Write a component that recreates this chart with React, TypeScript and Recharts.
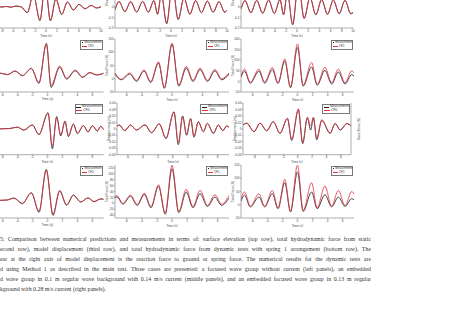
import React from 'react';
import { LineChart, Line, XAxis, YAxis, Legend } from 'recharts';

// ---- row 1: surface elevation (m), time -10..10 s
const r1aTime = [-10, -9.0, -8.0, -7.2, -6.4, -5.5, -4.5, -3.4, -2.3, -1.1, -0.15, 0.8, 1.8, 2.85, 3.9, 5.0, 6.0, 7.1, 8.2, 9.2, 10];
const r1aMeas = [0.002, 0.004, 0.0, 0.005, -0.002, 0.008, 0.0, -0.055, 0.12, -0.13, 0.22, -0.132, 0.075, -0.072, 0.046, -0.03, 0.026, -0.018, 0.015, -0.01, 0.002];
const r1aCfd = [0.002, 0.004, 0.0, 0.005, -0.002, 0.009, 0.002, -0.052, 0.118, -0.126, 0.21, -0.125, 0.078, -0.068, 0.048, -0.028, 0.024, -0.015, 0.014, -0.008, 0.004];

const r1bTime = [-10, -9.28, -8.24, -7.2, -6.13, -5.06, -4.05, -3.04, -2.4, -1.73, -0.77, 0.24, 1.28, 2.32, 3.36, 4.4, 5.44, 6.49, 7.53, 8.57, 9.6, 10];
const r1bMeas = [-0.025, 0.05, -0.045, 0.05, -0.048, 0.052, -0.05, 0.06, -0.07, 0.12, -0.16, 0.22, -0.12, 0.085, -0.07, 0.06, -0.055, 0.055, -0.05, 0.05, -0.05, -0.03];
const r1bCfd = [-0.022, 0.052, -0.043, 0.052, -0.046, 0.054, -0.048, 0.062, -0.066, 0.118, -0.15, 0.21, -0.115, 0.088, -0.067, 0.062, -0.052, 0.057, -0.048, 0.052, -0.048, -0.028];

const r1cMeas = [-0.02, 0.06, -0.055, 0.062, -0.06, 0.065, -0.062, 0.07, -0.075, 0.14, -0.17, 0.23, -0.11, 0.09, -0.075, 0.07, -0.07, 0.065, -0.065, 0.062, -0.065, -0.055];
const r1cCfd = [-0.018, 0.062, -0.052, 0.064, -0.057, 0.067, -0.06, 0.072, -0.07, 0.138, -0.16, 0.22, -0.105, 0.092, -0.072, 0.072, -0.067, 0.067, -0.062, 0.064, -0.062, -0.05];

// ---- row 2: total force from static tests (N)
const r2aTime = [-7.5, -6.2, -5.3, -4.3, -3.3, -2.13, -1.12, -0.13, 0.5, 1.64, 2.57, 3.7, 4.7, 5.65, 6.55, 7.5];
const r2aMeas = [3, 6, -2, 19, -8, 34, -51, 175, -74, 40, -27, 20, -17, 9, -4, 6];
const r2aCfd = [3, 6, -1, 18, -6, 32, -46, 170, -62, 47, -22, 24, -14, 11, -2, 7];

const r2bTime = [-7.5, -6.67, -5.56, -4.67, -3.69, -2.8, -1.78, -1.0, 0, 0.89, 1.87, 2.76, 3.69, 4.67, 5.64, 6.53, 7.5];
const r2bMeas = [18, -4, 18, -10, 30, -14, 60, -36, 130, -28, 40, -10, 34, -10, 30, -4, 18];
const r2bCfd = [22, -2, 22, -6, 33, -10, 64, -32, 134, -24, 47, -6, 40, -6, 35, 0, 22];

const r2cTime = [-7.5, -7.03, -6.27, -5.12, -4.36, -3.34, -2.59, -1.69, -0.93, 0, 0.75, 1.87, 2.61, 3.64, 4.53, 5.42, 6.31, 7.2, 7.5];
const r2cMeas = [20, 48, -8, 48, -8, 55, -10, 95, -30, 160, -22, 68, -18, 52, -12, 44, -12, 32, 25];
const r2cCfd = [25, 58, -4, 58, -4, 66, -6, 106, -26, 177, -18, 90, -14, 67, -6, 58, -6, 50, 40];

// ---- row 3: model displacement (m)
const r3aTime = [-7.5, -6.2, -5.0, -4.0, -3.12, -2.0, -1.12, 0.09, 0.67, 1.24, 1.78, 2.35, 2.8, 3.47, 4.0, 4.8, 5.42, 6.0, 6.66, 7.1, 7.5];
const r3aMeas = [0, 0, 0.0005, 0.0025, -0.002, 0.006, -0.009, 0.025, -0.031, 0.019, -0.011, 0.012, -0.012, 0.0075, -0.0075, 0.005, -0.005, 0.005, -0.0035, 0.004, -0.0015];
const r3aCfd = [0, 0, 0.0005, 0.0028, -0.0018, 0.0062, -0.0085, 0.024, -0.027, 0.017, -0.009, 0.011, -0.01, 0.007, -0.0065, 0.005, -0.0045, 0.0045, -0.003, 0.0038, -0.001];

const r3bTime = [-7.5, -7.1, -6.36, -5.6, -4.8, -3.69, -2.8, -1.78, -0.89, 0.18, 0.76, 1.33, 1.86, 2.4, 2.84, 3.42, 4.09, 4.62, 5.42, 6.09, 6.67, 7.2, 7.5];
const r3bMeas = [0.003, 0.006, -0.003, 0.006, -0.002, 0.006, -0.006, 0.0075, -0.015, 0.026, -0.0245, 0.02, -0.01, 0.016, -0.013, 0.011, -0.0045, 0.0085, -0.007, 0.006, -0.003, 0.0045, 0.0025];
const r3bCfd = [0.003, 0.0055, -0.0025, 0.0058, -0.0015, 0.0062, -0.0055, 0.0078, -0.014, 0.0265, -0.021, 0.018, -0.0085, 0.015, -0.011, 0.0105, -0.004, 0.008, -0.006, 0.0058, -0.0025, 0.0042, 0.0025];

const r3cTime = [-7.59, -7.09, -6.07, -5.24, -4.31, -3.39, -2.46, -1.43, -0.84, 0.09, 0.69, 1.34, 1.8, 2.18, 2.64, 3.34, 4.5, 5.2, 5.9, 6.83, 7.43];
const r3cMeas = [0.006, 0.0085, -0.0045, 0.0085, -0.003, 0.011, -0.007, 0.016, -0.018, 0.029, -0.023, 0.017, -0.002, 0.017, -0.017, 0.013, -0.007, 0.008, -0.002, 0.008, 0.004];
const r3cCfd = [0.006, 0.009, -0.004, 0.009, -0.0025, 0.011, -0.0065, 0.0165, -0.016, 0.031, -0.021, 0.018, 0.0045, 0.018, -0.0145, 0.014, -0.0065, 0.0085, -0.0015, 0.0085, 0.0045];

// ---- row 4: total force from dynamic tests (N)
const r4aTime = [-7.5, -6.2, -5.34, -4.45, -3.33, -2.13, -1.11, -0.14, 0.75, 1.64, 2.57, 3.46, 4.44, 5.42, 6.22, 7.1, 7.5];
const r4aMeas = [0, 0, 2, 13, -19, 43, -68, 175, -85, 52, -28, 30, -10, 14, -8, 8, 5];
const r4aCfd = [0, 0, 2, 12, -17, 42, -60, 170, -78, 57, -25, 28, -8, 13, -6, 8, 6];

const r4bTime = [-7.5, -7.25, -6.45, -5.47, -4.58, -3.65, -2.76, -1.78, -0.89, 0, 0.89, 1.87, 2.76, 3.69, 4.67, 5.64, 6.53, 7.5];
const r4bMeas = [18, 22, -3, 24, -7, 30, -15, 58, -37, 117, -32, 38, -15, 33, -11, 21, -7, 18];
const r4bCfd = [22, 26, -1, 28, -4, 34, -11, 63, -33, 129, -28, 48, -11, 44, -7, 29, -3, 27];

const r4cTime = [-7.5, -7.03, -6.27, -5.12, -4.36, -3.34, -2.59, -1.69, -0.93, 0, 0.75, 1.87, 2.61, 3.64, 4.53, 5.42, 6.31, 7.2, 7.5];
const r4cMeas = [13, 36, -8, 29, -8, 42, -15, 83, -27, 124, -25, 48, -15, 38, -8, 29, -6, 23, 18];
const r4cCfd = [23, 48, -6, 42, -6, 54, -12, 96, -24, 149, -22, 83, -12, 71, -5, 54, -3, 50, 40];

// ---- ticks
const timeTicks20 = [-8, -6, -4, -2, 0, 2, 4, 6, 8, 10];
const timeTicks15 = [-6, -4, -2, 0, 2, 4, 6];
const elevTicks = [-0.2, -0.1, 0, 0.1, 0.2, 0.3, 0.4];
const force50Ticks = [-50, 0, 50, 100, 150];
const force200Ticks = [-50, 0, 50, 100, 150, 200];
const forceBigTicks = [-100, -50, 0, 50, 100, 150, 200];
const force20Ticks = [-40, -20, 0, 20, 40, 60, 80, 100, 120];
const dispTicks = [-0.04, -0.03, -0.02, -0.01, 0, 0.01, 0.02, 0.03, 0.04];
const shearTicks = [-100, -50, 0, 50, 100];

const captionLines = [
  '5: Comparison between numerical predictions and measurements in terms of: surface elevation (top row), total hydrodynamic force from static',
  'econd row), model displacement (third row), and total hydrodynamic force from dynamic tests with spring 1 arrangement (bottom row). The',
  'ear at the right axis of model displacement is the reaction force to ground or spring force.  The numerical results for the dynamic tests are',
  'd using Method 1 as described in the main text.  Three cases are presented: a focused wave group without current (left panels), an embedded',
  'd wave group in 0.1 m regular wave background with 0.14 m/s current (middle panels), and an embedded focused wave group in 0.13 m regular',
  'kground with 0.28 m/s current (right panels).',
];

const MEAS = '#1a1a1a';
const CFD = '#e2323f';
const AXIS = '#777';
const M = { top: 2, right: 2, bottom: 0, left: 0 };
const YW = 17;
const XH = 8.5;
const FONT = '"Liberation Sans", Arial, sans-serif';
const tickStyle = { fontSize: 3.2, fill: '#444', fontFamily: FONT };

const fmt1 = (v: number) => (v === 0 ? '0' : v.toFixed(1));
const fmt2 = (v: number) => (v === 0 ? '0' : v.toFixed(2));

function LegendBox({ w, fs }: { w: number; fs: number }) {
  const row = (color: string, text: string) => (
    <div style={{ display: 'flex', alignItems: 'center', height: fs + 0.7 }}>
      <span style={{ display: 'inline-block', width: fs * 1.8, borderTop: `0.6px solid ${color}`, margin: '0 1px 0 0.8px' }} />
      <span>{text}</span>
    </div>
  );
  return (
    <div style={{ width: w, boxSizing: 'border-box', border: '0.5px solid #777', background: '#fff', fontSize: fs, lineHeight: 1, color: '#333', fontFamily: FONT, padding: '0.5px 0' }}>
      {row(MEAS, 'Measurement')}
      {row(CFD, 'CFD')}
    </div>
  );
}

type PanelProps = {
  x: number; y: number; w: number; h: number;
  time: number[]; meas: number[]; cfd: number[];
  xDomain: [number, number]; xTicks: number[];
  yDomain: [number, number]; yTicks: number[];
  yFmt?: (v: number) => string;
  yLabel?: string;
  hideY?: boolean;
  legend?: { w: number; fs: number };
  right?: { domain: [number, number]; ticks: number[]; label: string };
};

function Panel(p: PanelProps) {
  const data = p.time.map((t, i) => ({ t, m: p.meas[i], c: p.cfd[i] }));
  const rw = p.right ? 16 : 0;
  const axisLine = { stroke: AXIS, strokeWidth: 0.6 };
  return (
    <div style={{ position: 'absolute', left: p.x - YW, top: p.y - M.top }}>
      <LineChart width={YW + p.w + rw + M.right} height={M.top + p.h + XH} data={data} margin={M}>
        <XAxis
          dataKey="t" type="number" domain={p.xDomain} ticks={p.xTicks} interval={0} allowDataOverflow
          height={XH} tick={tickStyle} tickSize={1} tickMargin={0.5}
          tickLine={{ stroke: '#555', strokeWidth: 0.4 }} axisLine={axisLine}
          label={{ value: 'Time (s)', position: 'insideBottom', offset: 0, fontSize: 3.2, fill: '#444', fontFamily: FONT }}
        />
        <XAxis xAxisId="top" orientation="top" dataKey="t" type="number" domain={p.xDomain} allowDataOverflow
          height={0} tick={false} tickLine={false} axisLine={axisLine} />
        <YAxis
          type="number" domain={p.yDomain} ticks={p.yTicks} interval={0} allowDataOverflow
          width={YW} tick={p.hideY ? false : tickStyle} tickFormatter={p.yFmt} tickSize={1} tickMargin={0.5}
          tickLine={{ stroke: '#555', strokeWidth: 0.4 }} axisLine={axisLine}
          label={p.yLabel ? { value: p.yLabel, angle: -90, position: 'center', fontSize: 3.2, fill: '#444', fontFamily: FONT } : undefined}
        />
        {p.right ? (
          <YAxis yAxisId="right" orientation="right" type="number" domain={p.right.domain} ticks={p.right.ticks} interval={0}
            width={rw} tick={tickStyle} tickSize={1} tickMargin={0.5}
            tickLine={{ stroke: '#555', strokeWidth: 0.4 }} axisLine={axisLine}
            label={{ value: p.right.label, angle: -90, position: 'center', fontSize: 3.2, fill: '#444', fontFamily: FONT }} />
        ) : (
          <YAxis yAxisId="box" orientation="right" type="number" domain={[0, 1]} width={0} tick={false} tickLine={false} axisLine={axisLine} />
        )}
        {p.legend && (
          <Legend
            layout="vertical" align="center" verticalAlign="middle"
            wrapperStyle={{ top: M.top + 0.6, left: YW + p.w - p.legend.w - 0.6, width: p.legend.w }}
            content={() => <LegendBox w={p.legend!.w} fs={p.legend!.fs} />}
          />
        )}
        <Line dataKey="m" type="monotone" stroke={MEAS} strokeWidth={0.8} dot={false} activeDot={false} isAnimationActive={false} />
        <Line dataKey="c" type="monotone" stroke={CFD} strokeWidth={0.8} dot={false} activeDot={false} isAnimationActive={false} />
      </LineChart>
    </div>
  );
}

const D15: [number, number] = [-7.5, 7.5];
const legSmall = { w: 22.5, fs: 2.8 };
const legBig = { w: 28, fs: 3.2 };

export default function App() {
  return (
    <div style={{ position: 'absolute', left: 0, top: 0, width: 474, height: 331, background: '#fff', overflow: 'hidden' }}>
      {/* row 1 */}
      <Panel x={-9} y={-35} w={110} h={63} time={r1aTime} meas={r1aMeas} cfd={r1aCfd} xDomain={[-10, 10]} xTicks={timeTicks20} yDomain={[-0.2, 0.4]} yTicks={elevTicks} hideY />
      <Panel x={115} y={-35} w={112} h={63} time={r1bTime} meas={r1bMeas} cfd={r1bCfd} xDomain={[-10, 10]} xTicks={timeTicks20} yDomain={[-0.2, 0.4]} yTicks={elevTicks} yFmt={fmt1} yLabel="Elevation (m)" />
      <Panel x={241} y={-35} w={112} h={63} time={r1bTime} meas={r1cMeas} cfd={r1cCfd} xDomain={[-10, 10]} xTicks={timeTicks20} yDomain={[-0.2, 0.4]} yTicks={elevTicks} yFmt={fmt1} yLabel="Elevation (m)" />
      {/* row 2 */}
      <Panel x={-9.5} y={39} w={112.7} h={53} time={r2aTime} meas={r2aMeas} cfd={r2aCfd} xDomain={D15} xTicks={timeTicks15} yDomain={[-100, 200]} yTicks={forceBigTicks} hideY legend={legSmall} />
      <Panel x={115} y={39} w={114} h={53} time={r2bTime} meas={r2bMeas} cfd={r2bCfd} xDomain={D15} xTicks={timeTicks15} yDomain={[-50, 150]} yTicks={force50Ticks} yLabel="Total Force (N)" legend={legSmall} />
      <Panel x={241} y={39} w={113} h={53} time={r2cTime} meas={r2cMeas} cfd={r2cCfd} xDomain={D15} xTicks={timeTicks15} yDomain={[-50, 200]} yTicks={force200Ticks} yLabel="Total Force (N)" legend={legSmall} />
      {/* row 3 */}
      <Panel x={-9.5} y={103} w={112.7} h={51.7} time={r3aTime} meas={r3aMeas} cfd={r3aCfd} xDomain={D15} xTicks={timeTicks15} yDomain={[-0.04, 0.04]} yTicks={dispTicks} hideY legend={legBig} />
      <Panel x={117} y={103} w={112} h={51.7} time={r3bTime} meas={r3bMeas} cfd={r3bCfd} xDomain={[-7.4, 7.5]} xTicks={timeTicks15} yDomain={[-0.04, 0.04]} yTicks={dispTicks} yFmt={fmt2} yLabel="Displacement (m)" legend={legBig} />
      <Panel x={243} y={103} w={108} h={51.7} time={r3cTime} meas={r3cMeas} cfd={r3cCfd} xDomain={[-7.6, 7.4]} xTicks={timeTicks15} yDomain={[-0.04, 0.04]} yTicks={dispTicks} yFmt={fmt2} yLabel="Displacement (m)" legend={legBig}
        right={{ domain: [-100, 100], ticks: shearTicks, label: 'Base Shear (N)' }} />
      {/* row 4 */}
      <Panel x={-9.5} y={165} w={112.7} h={53} time={r4aTime} meas={r4aMeas} cfd={r4aCfd} xDomain={D15} xTicks={timeTicks15} yDomain={[-100, 200]} yTicks={forceBigTicks} hideY legend={legSmall} />
      <Panel x={115} y={165} w={114} h={53} time={r4bTime} meas={r4bMeas} cfd={r4bCfd} xDomain={D15} xTicks={timeTicks15} yDomain={[-50, 130]} yTicks={force20Ticks} yLabel="Total Force (N)" legend={legSmall} />
      <Panel x={241} y={165} w={113} h={53} time={r4cTime} meas={r4cMeas} cfd={r4cCfd} xDomain={D15} xTicks={timeTicks15} yDomain={[-50, 150]} yTicks={force50Ticks} yLabel="Total Force (N)" legend={legSmall} />
      {/* caption */}
      <div style={{ position: 'absolute', left: 0, top: 234, width: 371, fontFamily: '"Liberation Serif", "DejaVu Serif", serif', fontSize: 5.9, lineHeight: '10px', color: '#333' }}>
        {captionLines.map((line, i) => (
          <div key={i} style={{ height: 10, overflow: 'hidden', whiteSpace: i === captionLines.length - 1 ? 'nowrap' : 'normal', textAlign: 'justify', textAlignLast: i === captionLines.length - 1 ? 'left' : 'justify' }}>
            {line}
          </div>
        ))}
      </div>
    </div>
  );
}
